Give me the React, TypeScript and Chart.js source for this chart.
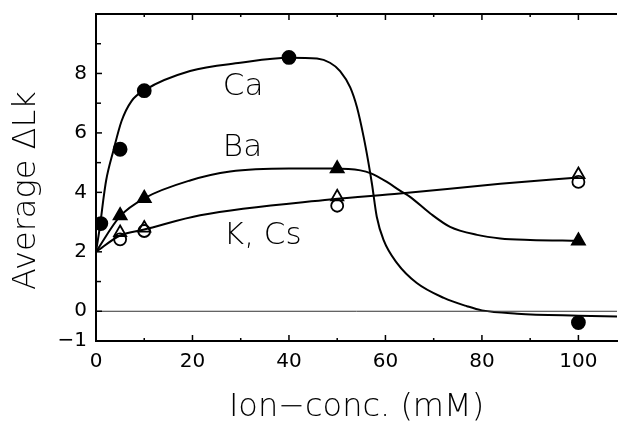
import { useEffect, useRef } from 'react';
import { Chart, registerables } from 'chart.js';

Chart.register(...registerables);

// Smooth fitted curves
const caCurveX = [0, 0.9, 1.5, 2.1, 3.6, 5.3, 7.4, 10.2, 19.5, 29.9, 40, 45.8, 48.5, 50.6, 52.7, 54.1, 55.5, 56.4, 57.2, 58.2, 59.6, 62.4, 66.5, 72.1, 76.9, 80, 87.3, 100, 108];
const caCurveY = [2.0, 2.95, 3.73, 4.4, 5.4, 6.4, 7.08, 7.45, 8.08, 8.36, 8.53, 8.5, 8.36, 8.08, 7.53, 6.86, 5.85, 5.07, 4.29, 3.18, 2.4, 1.62, 0.95, 0.45, 0.17, 0.03, -0.08, -0.15, -0.18];
const baCurveX = [0, 5, 10, 19.5, 27.8, 40, 49.2, 54.8, 57, 60.3, 63.1, 65.1, 69.3, 73.4, 79, 83.8, 90, 100];
const baCurveY = [2.0, 3.2, 3.8, 4.4, 4.7, 4.8, 4.8, 4.74, 4.64, 4.35, 4.05, 3.85, 3.29, 2.84, 2.57, 2.45, 2.4, 2.37];
const kcsCurveX = [0, 5, 10, 21.6, 48.5, 63, 83.8, 100];
const kcsCurveY = [2.0, 2.55, 2.75, 3.23, 3.76, 3.96, 4.29, 4.5];

// Measured points
const caX = [1, 5, 10, 40, 100];
const caY = [2.95, 5.45, 7.42, 8.54, -0.38];
const baX = [5, 10, 50, 100];
const baY = [3.22, 3.8, 4.8, 2.37];
const kX = [5, 10, 50, 100];
const kY = [2.65, 2.8, 3.85, 4.6];
const csX = [5, 10, 50, 100];
const csY = [2.42, 2.7, 3.55, 4.35];

// Axis ticks
const xTickLabels = [0, 20, 40, 60, 80, 100];
const yTickLabels = [0, 2, 4, 6, 8];

// In-plot labels
const seriesNames = ['Ca', 'Ba', 'K, Cs'];
const nameX = [26.3, 26.3, 26.5];
const nameY = [7.54, 5.5, 2.55];

const FONT = 'DejaVu Sans';

const pts = (xs: number[], ys: number[]) => xs.map((x, i) => ({ x, y: ys[i] }));

const framePlugin = {
  id: 'frame',
  afterDraw(chart: any) {
    const { ctx, chartArea: a, scales } = chart;
    const x = scales.x;
    const y = scales.y;
    ctx.save();
    ctx.strokeStyle = '#000';
    ctx.lineWidth = 2;
    ctx.beginPath();
    ctx.moveTo(a.left - 1, a.top);
    ctx.lineTo(a.right, a.top);
    ctx.stroke();
    ctx.lineWidth = 1.5;
    for (const t of x.ticks) {
      const v = Math.round(t.value);
      if (v <= 0) continue;
      const px = x.getPixelForValue(v);
      const len = v % 20 === 0 ? 6 : 3;
      ctx.beginPath();
      ctx.moveTo(px, a.bottom);
      ctx.lineTo(px, a.bottom - len);
      ctx.moveTo(px, a.top);
      ctx.lineTo(px, a.top + len);
      ctx.stroke();
    }
    for (const t of y.ticks) {
      const v = Math.round(t.value);
      if (v <= -1 || v >= 10) continue;
      const py = y.getPixelForValue(v);
      const len = v % 2 === 0 ? 6 : 5;
      ctx.beginPath();
      ctx.moveTo(a.left, py);
      ctx.lineTo(a.left + len, py);
      ctx.stroke();
    }
    ctx.fillStyle = '#000';
    ctx.font = `200 31px "${FONT}"`;
    ctx.textAlign = 'left';
    ctx.textBaseline = 'middle';
    seriesNames.forEach((n, i) => {
      ctx.fillText(n, x.getPixelForValue(nameX[i]), y.getPixelForValue(nameY[i]));
    });
    ctx.restore();
  },
};

const curve = (xs: number[], ys: number[]) => ({
  type: 'line' as const,
  data: pts(xs, ys),
  borderColor: '#000',
  borderWidth: 2,
  pointRadius: 0,
  showLine: true,
  fill: false,
  cubicInterpolationMode: 'monotone' as const,
});

const marks = (xs: number[], ys: number[], style: string, r: number, filled: boolean) => ({
  type: 'scatter' as const,
  data: pts(xs, ys),
  showLine: false,
  pointStyle: style,
  pointRadius: r,
  pointBackgroundColor: filled ? '#000' : 'rgba(255,255,255,0)',
  pointBorderColor: '#000',
  pointBorderWidth: 1.8,
});

const zeroPad = (s: any) => {
  s.paddingTop = 0;
  s.paddingBottom = 0;
  s.paddingLeft = 0;
  s.paddingRight = 0;
};

export default function App() {
  const ref = useRef<HTMLCanvasElement>(null);
  useEffect(() => {
    document.body.style.margin = '0';
    const chart = new Chart(ref.current!, {
      type: 'scatter',
      data: {
        datasets: [
          {
            type: 'line',
            data: [{ x: 0, y: 0 }, { x: 108, y: 0 }],
            borderColor: '#333',
            borderWidth: 1,
            pointRadius: 0,
            showLine: true,
          } as any,
          curve(caCurveX, caCurveY),
          curve(baCurveX, baCurveY),
          curve(kcsCurveX, kcsCurveY),
          marks(caX, caY, 'circle', 6.5, true),
          marks(baX, baY, 'triangle', 7.5, true),
          marks(kX, kY, 'triangle', 7, false),
          marks(csX, csY, 'circle', 6, false),
        ] as any,
      },
      options: {
        responsive: false,
        devicePixelRatio: 1,
        animation: false,
        layout: { autoPadding: false, padding: { top: 14, right: 2, left: 0, bottom: 0 } },
        plugins: { legend: { display: false }, tooltip: { enabled: false } },
        scales: {
          x: {
            type: 'linear',
            min: 0,
            max: 108,
            afterFit: (s: any) => { s.height = 84; zeroPad(s); },
            border: { display: true, color: '#000', width: 2 },
            grid: { display: false, drawOnChartArea: false, drawTicks: false },
            ticks: {
              stepSize: 10,
              includeBounds: false,
              autoSkip: false,
              maxRotation: 0,
              padding: 9,
              color: '#000',
              font: { family: FONT, size: 20 },
              callback: (v: any) => (xTickLabels.includes(Math.round(v)) ? String(Math.round(v)) : ''),
            },
            title: {
              display: true,
              text: 'Ion\u2212conc. (mM)',
              color: '#000',
              font: { family: FONT, size: 32, weight: '200', lineHeight: 1 },
              padding: { top: 0, bottom: 1 },
            },
          },
          y: {
            type: 'linear',
            min: -1,
            max: 10,
            afterFit: (s: any) => { s.width = 96; zeroPad(s); },
            border: { display: true, color: '#000', width: 2 },
            grid: { display: false, drawOnChartArea: false, drawTicks: false },
            ticks: {
              stepSize: 1,
              includeBounds: false,
              autoSkip: false,
              padding: 9,
              color: '#000',
              font: { family: FONT, size: 20 },
              callback: (v: any) => {
                const n = Math.round(v);
                if (n === -1) return '\u22121';
                return yTickLabels.includes(n) ? String(n) : '';
              },
            },
            title: {
              display: true,
              text: 'Average \u0394Lk\u2002 ',
              color: '#000',
              font: { family: FONT, size: 32, weight: '200', lineHeight: 1 },
              padding: { top: 11, bottom: 0 },
            },
          },
        },
      },
      plugins: [framePlugin],
    } as any);
    return () => chart.destroy();
  }, []);
  return (
    <div style={{ width: 619, height: 425 }}>
      <canvas ref={ref} width={619} height={425} style={{ display: 'block' }} />
    </div>
  );
}
